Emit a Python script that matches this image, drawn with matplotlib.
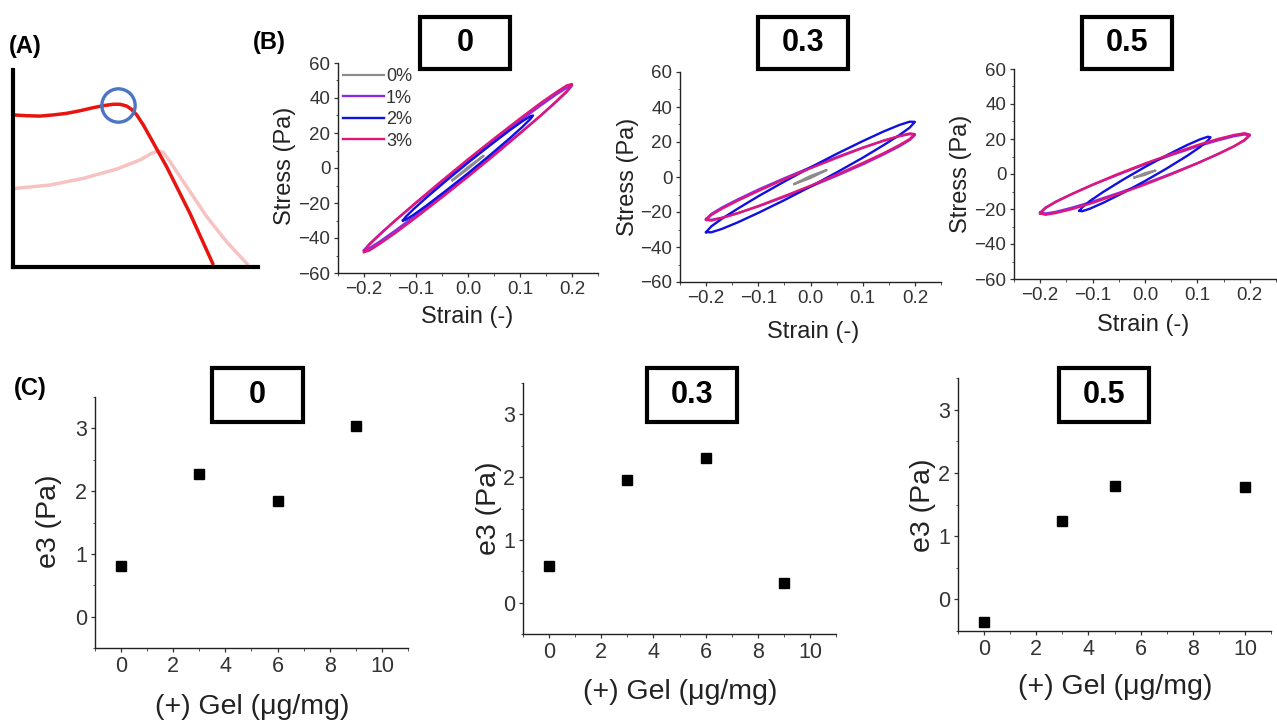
import matplotlib
matplotlib.use('Agg')
import matplotlib.pyplot as plt
from matplotlib.patches import Rectangle
from matplotlib.ticker import MultipleLocator

plt.rcParams['font.family'] = ['Liberation Sans', 'DejaVu Sans']

W, H = 1277, 721

# (A) schematic curves
a_red_x = [0.01, 0.56, 1.10, 1.65, 2.19, 2.73, 3.28, 3.69, 4.09, 4.37, 4.64, 4.84, 5.05, 5.32, 6.27, 7.22, 8.18]
a_red_y = [7.72, 7.68, 7.66, 7.72, 7.80, 7.93, 8.09, 8.19, 8.26, 8.26, 8.17, 8.00, 7.72, 7.21, 5.09, 2.73, 0.10]
a_pink_x = [0.08, 1.51, 2.87, 4.23, 5.18, 5.66, 5.93, 6.13, 6.41, 7.09, 7.91, 8.72, 9.60]
a_pink_y = [3.99, 4.16, 4.50, 4.97, 5.43, 5.77, 5.89, 5.82, 5.35, 4.08, 2.55, 1.28, 0.10]
a_circle = (4.3, 8.22)

# (B) Lissajous loops, read as upper / lower branch per strain point
strain_20 = [-0.2, -0.19, -0.17, -0.14, -0.1, -0.05, 0, 0.05, 0.1, 0.14, 0.17, 0.19, 0.2]
strain_12 = [-0.125, -0.12, -0.105, -0.08, -0.04, 0, 0.04, 0.08, 0.105, 0.12, 0.125]
amp_labels = ['0%', '1%', '2%', '3%']
amp_colors = ['#8c8c8c', '#8a2be2', '#1010e0', '#e0167a']

# panel 0
b1_grey_strain = [-0.03, 0, 0.03]
b1_grey_up = [-7, 0.5, 7]
b1_grey_lo = [-7, -0.5, 7]
b1_purple_up = [-47, -43.5, -37.9, -30.0, -20.0, -7.9, 4, 15.7, 27.0, 35.8, 42.1, 45.9, 47]
b1_purple_lo = [-47, -45.9, -42.1, -35.8, -27.0, -15.7, -4, 7.9, 20.0, 30.0, 37.9, 43.5, 47]
b1_blue_up = [-30, -28.0, -23.6, -16.9, -6.8, 3, 12.4, 21.5, 26.8, 29.6, 30]
b1_blue_lo = [-30, -29.6, -26.8, -21.5, -12.4, -3, 6.8, 16.9, 23.6, 28.0, 30]
b1_mag_up = [-48, -44.0, -38.2, -30.0, -19.7, -7.2, 5, 16.8, 28.3, 37.2, 43.4, 47.2, 48]
b1_mag_lo = [-48, -47.2, -43.4, -37.2, -28.3, -16.8, -5, 7.2, 19.7, 30.0, 38.2, 44.0, 48]

# panel 0.3
b2_grey_strain = [-0.031, 0, 0.031]
b2_grey_up = [-4, 0.6, 4]
b2_grey_lo = [-4, -0.6, 4]
b2_purple_up = [-24, -21.1, -17.5, -12.9, -7.2, -0.7, 5.5, 11.3, 16.8, 20.7, 23.3, 24.5, 24]
b2_purple_lo = [-24, -24.5, -23.3, -20.7, -16.8, -11.3, -5.5, 0.7, 7.2, 12.9, 17.5, 21.1, 24]
b2_blue_up = [-31.5, -28.2, -23.9, -18.2, -11.0, -2.6, 5.5, 13.2, 20.5, 26.0, 29.7, 31.6, 31.5]
b2_blue_lo = [-31.5, -31.6, -29.7, -26.0, -20.5, -13.2, -5.5, 2.6, 11.0, 18.2, 23.9, 28.2, 31.5]
b2_mag_up = [-24.5, -21.7, -18.2, -13.6, -8.0, -1.3, 5, 10.9, 16.6, 20.8, 23.4, 24.9, 24.5]
b2_mag_lo = [-24.5, -24.9, -23.4, -20.8, -16.6, -10.9, -5, 1.3, 8.0, 13.6, 18.2, 21.7, 24.5]

# panel 0.5
b3_grey_strain = [-0.02, 0, 0.02]
b3_grey_up = [-2, 0.5, 2]
b3_grey_lo = [-2, -0.5, 2]
b3_purple_up = [-22, -19.2, -15.8, -11.5, -6.2, -0.2, 5.5, 10.8, 15.8, 19.3, 21.6, 22.6, 22]
b3_purple_lo = [-22, -22.6, -21.6, -19.3, -15.8, -10.8, -5.5, 0.2, 6.2, 11.5, 15.8, 19.2, 22]
b3_blue_up = [-21, -19.1, -15.4, -10.3, -2.9, 4, 10.5, 16.5, 19.8, 21.3, 21]
b3_blue_lo = [-21, -21.3, -19.8, -16.5, -10.5, -4, 2.9, 10.3, 15.4, 19.1, 21]
b3_mag_up = [-22.5, -19.5, -15.9, -11.5, -6.1, 0.2, 6, 11.4, 16.5, 20.1, 22.3, 23.3, 22.5]
b3_mag_lo = [-22.5, -23.3, -22.3, -20.1, -16.5, -11.4, -6, -0.2, 6.1, 11.5, 15.9, 19.5, 22.5]

# (C) e3 vs gel content
c1_gel = [0, 3, 6, 9]
c1_e3 = [0.80, 2.28, 1.85, 3.03]
c2_gel = [0, 3, 6, 9]
c2_e3 = [0.58, 1.96, 2.30, 0.31]
c3_gel = [0, 3, 5, 10]
c3_e3 = [-0.35, 1.24, 1.80, 1.77]

panel_titles = ['0', '0.3', '0.5']

fig = plt.figure(figsize=(W / 100, H / 100), dpi=100)


def add_ax(x0, y0, x1, y1):
    return fig.add_axes([x0 / W, 1 - y1 / H, (x1 - x0) / W, (y1 - y0) / H])


def title_box(x0, y0, x1, y1, text):
    fig.patches.append(Rectangle((x0 / W, 1 - y1 / H), (x1 - x0) / W, (y1 - y0) / H,
                                 transform=fig.transFigure, fill=False, lw=3, ec='black'))
    fig.text((x0 + x1) / 2 / W, 1 - (y0 + y1) / 2 / H, text, ha='center', va='center',
             fontsize=22, fontweight='bold')


def style_ax(ax, tick_size):
    for s in ['top', 'right']:
        ax.spines[s].set_visible(False)
    for s in ['left', 'bottom']:
        ax.spines[s].set_linewidth(1.0)
        ax.spines[s].set_color('#222222')
    ax.tick_params(which='major', direction='out', length=3, width=0.9, labelsize=tick_size,
                   labelcolor='#333333', color='#333333', pad=2.5)
    ax.tick_params(which='minor', direction='out', length=1.8, width=0.7, color='#555555')


def place_labels(ax, xlab, xpos, ylab, ypos, size):
    ax.set_xlabel(xlab, fontsize=size, color='#222222')
    ax.set_ylabel(ylab, fontsize=size, color='#222222')
    ax.xaxis.set_label_coords(xpos[0] / W, 1 - xpos[1] / H, transform=fig.transFigure)
    ax.yaxis.set_label_coords(ypos[0] / W, 1 - ypos[1] / H, transform=fig.transFigure)
    ax.xaxis.label.set_va('center')
    ax.yaxis.label.set_va('center')


def loop(ax, strain, up, lo, color, lw=1.7, label=None):
    xs = list(strain) + list(strain[::-1])
    ys = list(up) + list(lo[::-1])
    ax.plot(xs, ys, color=color, lw=lw, label=label, solid_joinstyle='round')


# ---- (A) ----
axA = add_ax(13, 70, 258, 267)
axA.plot(a_pink_x, a_pink_y, color='#f6c2c2', lw=2.5, solid_capstyle='butt')
axA.plot(a_red_x, a_red_y, color='#e8140f', lw=2.5, solid_capstyle='butt')
axA.plot([a_circle[0]], [a_circle[1]], 'o', mfc='none', mec='#4a76c4', mew=2.4, ms=24)
axA.set_xlim(0, 10)
axA.set_ylim(0, 10)
axA.set_xticks([])
axA.set_yticks([])
for s in ['top', 'right']:
    axA.spines[s].set_visible(False)
for s in ['left', 'bottom']:
    axA.spines[s].set_linewidth(3)
fig.text(9 / W, 1 - 47 / H, '(A)', fontsize=17, fontweight='bold', va='center')
fig.text(253 / W, 1 - 42 / H, '(B)', fontsize=17, fontweight='bold', va='center')
fig.text(14 / W, 1 - 388 / H, '(C)', fontsize=17, fontweight='bold', va='center')

# ---- (B) ----
b_boxes = [(338, 63, 598, 273), (680, 72, 941, 282), (1014, 69, 1276, 279)]
b_title_boxes = [(420, 17, 510, 69), (758, 17, 848, 69), (1082, 17, 1172, 69)]
b_xlab = [(467, 317), (813, 332), (1143, 325)]
b_ylab = [(285, 166), (628, 177), (961, 174)]
b_loops = [
    (b1_grey_strain, b1_grey_up, b1_grey_lo, b1_purple_up, b1_purple_lo, b1_blue_up, b1_blue_lo, b1_mag_up, b1_mag_lo, strain_12),
    (b2_grey_strain, b2_grey_up, b2_grey_lo, b2_purple_up, b2_purple_lo, b2_blue_up, b2_blue_lo, b2_mag_up, b2_mag_lo, strain_20),
    (b3_grey_strain, b3_grey_up, b3_grey_lo, b3_purple_up, b3_purple_lo, b3_blue_up, b3_blue_lo, b3_mag_up, b3_mag_lo, strain_12),
]

for i in range(3):
    ax = add_ax(*b_boxes[i])
    gs, gu, gl, pu, pl, bu, bl, mu, ml, bstrain = b_loops[i]
    loop(ax, gs, gu, gl, amp_colors[0], lw=1.6, label=amp_labels[0])
    loop(ax, strain_20, pu, pl, amp_colors[1], label=amp_labels[1])
    loop(ax, bstrain, bu, bl, amp_colors[2], label=amp_labels[2])
    loop(ax, strain_20, mu, ml, amp_colors[3], label=amp_labels[3])
    ax.set_xlim(-0.25, 0.25)
    ax.set_ylim(-60, 60)
    ax.set_xticks([-0.2, -0.1, 0.0, 0.1, 0.2])
    ax.set_yticks([-60, -40, -20, 0, 20, 40, 60])
    ax.xaxis.set_minor_locator(MultipleLocator(0.05))
    ax.yaxis.set_minor_locator(MultipleLocator(10))
    style_ax(ax, 13.5)
    place_labels(ax, 'Strain (-)', b_xlab[i], 'Stress (Pa)', b_ylab[i], 17)
    title_box(*b_title_boxes[i], panel_titles[i])
    if i == 0:
        ax.legend(loc='upper left', bbox_to_anchor=(-0.01, 1.01), frameon=False, fontsize=13,
                  handlelength=2.3, handletextpad=0.1, labelspacing=0.25,
                  borderaxespad=0, labelcolor='#333333')

# ---- (C) ----
c_boxes = [(95, 397, 408, 648), (523, 383, 836, 634), (958, 378, 1271, 631)]
c_title_boxes = [(212, 368, 303, 422), (647, 368, 737, 422), (1059, 368, 1149, 422)]
c_xlab = [(252, 707), (680, 692), (1115, 687)]
c_ylab = [(49, 521), (489, 508), (923, 505)]
c_data = [(c1_gel, c1_e3), (c2_gel, c2_e3), (c3_gel, c3_e3)]

for i in range(3):
    ax = add_ax(*c_boxes[i])
    gx, gy = c_data[i]
    ax.plot(gx, gy, 's', color='black', ms=7, ls='none')
    ax.set_xlim(-1, 11)
    ax.set_ylim(-0.5, 3.5)
    ax.set_xticks([0, 2, 4, 6, 8, 10])
    ax.set_yticks([0, 1, 2, 3])
    ax.xaxis.set_minor_locator(MultipleLocator(1))
    ax.yaxis.set_minor_locator(MultipleLocator(0.5))
    style_ax(ax, 15.5)
    place_labels(ax, '(+) Gel (\u03bcg/mg)', c_xlab[i], 'e3 (Pa)', c_ylab[i], 20.5)
    title_box(*c_title_boxes[i], panel_titles[i])

fig.savefig('out.png', dpi=100)
